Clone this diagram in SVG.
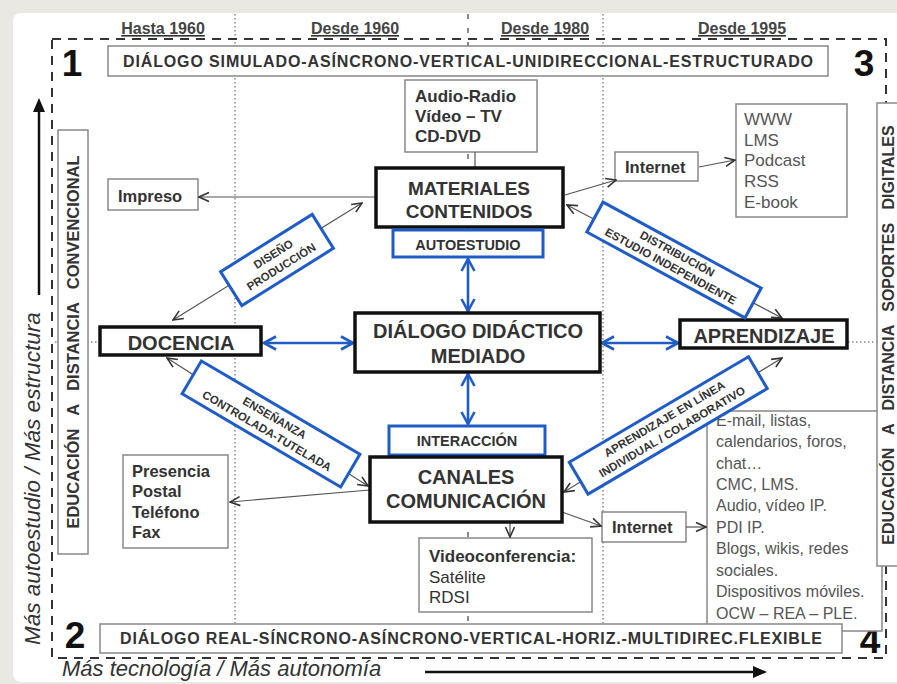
<svg xmlns="http://www.w3.org/2000/svg" width="897" height="684" viewBox="0 0 897 684">
<defs>
<style>
.t{font-family:"Liberation Sans",Arial,sans-serif;fill:#333}
.b{font-weight:bold}
.r{fill:#555}
.box{fill:#fff;stroke:#888;stroke-width:1.5}
.node{fill:#fff;stroke:#111;stroke-width:3.5}
.blue{fill:#fff;stroke:#1f5cc8;stroke-width:3}
.gl{stroke:#555;stroke-width:1.2;fill:none}
.bl{stroke:#1f5cc8;stroke-width:2.6;fill:none}
.dot{stroke:#888;stroke-width:1.5;stroke-dasharray:1.5,2.5;fill:none}
.dash{stroke:#333;stroke-width:2;stroke-dasharray:9,7;fill:none}
.lbl{font-family:"Liberation Sans",Arial,sans-serif;font-weight:bold;font-size:11.5px;fill:#333;text-anchor:middle}
</style>
<marker id="ga" viewBox="0 0 12 12" refX="11" refY="6" markerWidth="12" markerHeight="12" markerUnits="userSpaceOnUse" orient="auto-start-reverse"><path d="M1,1.5 L11,6 L1,10.5" fill="none" stroke="#333" stroke-width="1.6"/></marker>
<marker id="ba" viewBox="0 0 16 16" refX="14" refY="8" markerWidth="16" markerHeight="16" markerUnits="userSpaceOnUse" orient="auto-start-reverse"><path d="M2,1.5 L14,8 L2,14.5" fill="none" stroke="#1f5cc8" stroke-width="2.6"/></marker>
<marker id="ka" viewBox="0 0 14 14" refX="2" refY="7" markerWidth="14" markerHeight="14" markerUnits="userSpaceOnUse" orient="auto"><path d="M0,1 L14,7 L0,13 Z" fill="#111"/></marker>
</defs>

<rect x="0" y="0" width="897" height="684" fill="#e9e8e2"/>
<rect x="13" y="13" width="892" height="669" rx="8" fill="#fff"/>

<g id="guides">
<line class="dot" x1="235" y1="14" x2="235" y2="624"/>
<line class="dot" x1="603" y1="14" x2="603" y2="624"/>
<line x1="468" y1="14" x2="468" y2="656" stroke="#666" stroke-width="1.5" stroke-dasharray="5,9"/>
<line class="dot" x1="55" y1="342" x2="100" y2="342"/>
<line class="dot" x1="848" y1="342" x2="877" y2="342"/>
</g>

<g id="frame">
<path class="dash" d="M52,39 L886,39 L886,658 L52,658 Z"/>
</g>

<g id="periods" class="t b" font-size="16" text-decoration="underline" fill="#444">
<text x="163" y="34" text-anchor="middle" fill="#444">Hasta 1960</text>
<text x="355" y="34" text-anchor="middle" fill="#444">Desde 1960</text>
<text x="545" y="34" text-anchor="middle" fill="#444">Desde 1980</text>
<text x="742" y="34" text-anchor="middle" fill="#444">Desde 1995</text>
</g>

<g id="numbers" class="t b" font-size="37" text-anchor="middle">
<text x="72" y="76" fill="#111">1</text>
<text x="864" y="76" fill="#111">3</text>
<text x="75" y="648" fill="#111">2</text>
<text x="870" y="653" fill="#111">4</text>
</g>

<g id="banner-top">
<rect class="box" x="108" y="46" width="720" height="30"/>
<text class="t b" x="468" y="67" font-size="16" text-anchor="middle" textLength="690">DIÁLOGO SIMULADO-ASÍNCRONO-VERTICAL-UNIDIRECCIONAL-ESTRUCTURADO</text>
</g>

<g id="axes">
<line x1="39" y1="295" x2="39" y2="110" stroke="#111" stroke-width="2.5" marker-end="url(#ka)"/>
<text class="t" transform="translate(40,645) rotate(-90)" font-size="22.5" font-style="italic" fill="#555">Más autoestudio / Más estructura</text>
<text class="t" x="62" y="676" font-size="22" font-style="italic" fill="#555">Más tecnología / Más autonomía</text>
<line x1="425" y1="672" x2="755" y2="672" stroke="#111" stroke-width="2.5" marker-end="url(#ka)"/>
</g>

<g id="left-band">
<rect class="box" x="58" y="130" width="30" height="424"/>
<text class="t b" transform="translate(79,342) rotate(-90)" font-size="16.5" text-anchor="middle" word-spacing="9">EDUCACIÓN A DISTANCIA CONVENCIONAL</text>
</g>

<g id="email">
<rect class="box" x="707" y="411" width="175" height="220"/>
<g class="t r" font-size="16">
<text x="716" y="426" fill="#555">E-mail, listas,</text>
<text x="716" y="447" fill="#555">calendarios, foros,</text>
<text x="716" y="469" fill="#555">chat…</text>
<text x="716" y="490" fill="#555">CMC, LMS.</text>
<text x="716" y="511" fill="#555">Audio, vídeo IP.</text>
<text x="716" y="533" fill="#555">PDI IP.</text>
<text x="716" y="554" fill="#555">Blogs, wikis, redes</text>
<text x="716" y="576" fill="#555">sociales.</text>
<text x="716" y="597" fill="#555">Dispositivos móviles.</text>
<text x="716" y="619" fill="#555">OCW – REA – PLE.</text>
</g>
</g>

<g id="right-band">
<rect class="box" x="877" y="103" width="40" height="463"/>
<text class="t b" transform="translate(894,335) rotate(-90)" font-size="16" text-anchor="middle" word-spacing="9">EDUCACIÓN A DISTANCIA SOPORTES DIGITALES</text>
</g>

<g id="banner-bottom">
<rect class="box" x="100" y="624" width="742" height="29"/>
<text class="t b" x="471" y="644" font-size="16" text-anchor="middle" textLength="702">DIÁLOGO REAL-SÍNCRONO-ASÍNCRONO-VERTICAL-HORIZ.-MULTIDIREC.FLEXIBLE</text>
</g>

<g id="audio">
<rect class="box" x="405" y="80" width="132" height="72"/>
<g class="t b" font-size="17">
<text x="415" y="102">Audio-Radio</text>
<text x="415" y="122">Vídeo – TV</text>
<text x="415" y="142">CD-DVD</text>
</g>
</g>

<g id="impreso">
<rect class="box" x="108" y="179" width="90" height="31"/>
<text class="t b" x="118" y="202" font-size="16.5">Impreso</text>
</g>

<g id="internet-top">
<rect class="box" x="615" y="152" width="83" height="29"/>
<text class="t b" x="625" y="173" font-size="16.5">Internet</text>
</g>

<g id="web">
<rect class="box" x="736" y="104" width="111" height="113"/>
<g class="t" font-size="17" fill="#555">
<text x="744" y="125" fill="#555">WWW</text>
<text x="744" y="146" fill="#555">LMS</text>
<text x="744" y="166" fill="#555">Podcast</text>
<text x="744" y="187" fill="#555">RSS</text>
<text x="744" y="208" fill="#555">E-book</text>
</g>
</g>

<g id="presencia">
<rect class="box" x="123" y="455" width="105" height="93"/>
<g class="t b" font-size="16.5">
<text x="132" y="477">Presencia</text>
<text x="132" y="497">Postal</text>
<text x="132" y="518">Teléfono</text>
<text x="132" y="538">Fax</text>
</g>
</g>

<g id="videoconf">
<rect class="box" x="419" y="538" width="173" height="74"/>
<text class="t b" x="429" y="562" font-size="17">Videoconferencia:</text>
<text class="t" x="429" y="583" font-size="17" fill="#555">Satélite</text>
<text class="t" x="429" y="603" font-size="17" fill="#555">RDSI</text>
</g>

<g id="internet-bottom">
<rect class="box" x="602" y="512" width="84" height="30"/>
<text class="t b" x="612" y="533" font-size="16.5">Internet</text>
</g>

<g id="connectors">
<line class="gl" x1="376" y1="197" x2="199" y2="197" marker-end="url(#ga)"/>
<line class="gl" x1="565" y1="195" x2="616" y2="180" marker-end="url(#ga)"/>
<line class="gl" x1="699" y1="167" x2="735" y2="160" marker-end="url(#ga)"/>
<line class="gl" x1="475" y1="152" x2="475" y2="168"/>
<line class="gl" x1="173" y1="320" x2="362" y2="203" marker-start="url(#ga)" marker-end="url(#ga)"/>
<line class="gl" x1="567" y1="205" x2="782" y2="318" marker-start="url(#ga)" marker-end="url(#ga)"/>
<line class="gl" x1="167" y1="358" x2="368" y2="486" marker-start="url(#ga)" marker-end="url(#ga)"/>
<line class="gl" x1="370" y1="490" x2="230" y2="502" marker-end="url(#ga)"/>
<line class="gl" x1="564" y1="492" x2="782" y2="358" marker-start="url(#ga)" marker-end="url(#ga)"/>
<line class="gl" x1="510" y1="523" x2="510" y2="537" marker-end="url(#ga)"/>
<line class="gl" x1="562" y1="512" x2="601" y2="526" marker-end="url(#ga)"/>
<line class="gl" x1="686" y1="527" x2="706" y2="527" marker-end="url(#ga)"/>
<line class="bl" x1="264" y1="343" x2="353" y2="343" marker-start="url(#ba)" marker-end="url(#ba)"/>
<line class="bl" x1="602" y1="343" x2="678" y2="343" marker-start="url(#ba)" marker-end="url(#ba)"/>
<line class="bl" x1="468" y1="259" x2="468" y2="311" marker-start="url(#ba)" marker-end="url(#ba)"/>
<line class="bl" x1="468" y1="374" x2="468" y2="424" marker-start="url(#ba)" marker-end="url(#ba)"/>
</g>

<g id="materiales">
<rect class="node" x="376" y="168" width="187" height="59"/>
<text class="t b" x="469" y="195" font-size="19" text-anchor="middle" fill="#222">MATERIALES</text>
<text class="t b" x="469" y="218" font-size="19" text-anchor="middle" fill="#222">CONTENIDOS</text>
</g>

<g id="autoestudio">
<rect class="blue" x="393" y="230" width="150" height="27"/>
<text class="t b" x="468" y="250" font-size="14.5" text-anchor="middle">AUTOESTUDIO</text>
</g>

<g id="dialogo">
<rect class="node" x="355" y="313" width="245" height="59"/>
<text class="t b" x="478" y="338" font-size="20" text-anchor="middle" fill="#222">DIÁLOGO DIDÁCTICO</text>
<text class="t b" x="478" y="363" font-size="20" text-anchor="middle" fill="#222">MEDIADO</text>
</g>

<g id="docencia">
<rect class="node" x="100" y="327" width="161" height="28"/>
<text class="t b" x="181" y="350" font-size="20" text-anchor="middle" fill="#222">DOCENCIA</text>
</g>

<g id="aprendizaje">
<rect class="node" x="680" y="320" width="167" height="28"/>
<text class="t b" x="764" y="343" font-size="20" text-anchor="middle" fill="#222">APRENDIZAJE</text>
</g>

<g id="interaccion">
<rect class="blue" x="389" y="426" width="156" height="29"/>
<text class="t b" x="467" y="446" font-size="14.5" text-anchor="middle">INTERACCIÓN</text>
</g>

<g id="canales">
<rect class="node" x="370" y="457" width="192" height="65"/>
<text class="t b" x="466" y="484" font-size="20" text-anchor="middle" fill="#222">CANALES</text>
<text class="t b" x="466" y="508" font-size="20" text-anchor="middle" fill="#222">COMUNICACIÓN</text>
</g>

<g id="lbl-diseno" transform="translate(277,260) rotate(-32)">
<rect class="blue" x="-54" y="-20" width="108" height="40"/>
<text class="lbl" x="0" y="-3">DISEÑO</text>
<text class="lbl" x="0" y="12">PRODUCCIÓN</text>
</g>

<g id="lbl-distribucion" transform="translate(674,260) rotate(28.5)">
<rect class="blue" x="-90" y="-17" width="180" height="34"/>
<text class="lbl" x="0" y="-3">DISTRIBUCIÓN</text>
<text class="lbl" x="0" y="11">ESTUDIO INDEPENDIENTE</text>
</g>

<g id="lbl-ensenanza" transform="translate(271,424) rotate(30.5)">
<rect class="blue" x="-92" y="-19" width="184" height="38"/>
<text class="lbl" x="0" y="-3">ENSEÑANZA</text>
<text class="lbl" x="0" y="12">CONTROLADA-TUTELADA</text>
</g>

<g id="lbl-linea" transform="translate(668,425) rotate(-30.5)">
<rect class="blue" x="-104" y="-18" width="208" height="37"/>
<text class="lbl" x="0" y="-3">APRENDIZAJE EN LÍNEA</text>
<text class="lbl" x="0" y="12">INDIVIDUAL / COLABORATIVO</text>
</g>
</svg>
